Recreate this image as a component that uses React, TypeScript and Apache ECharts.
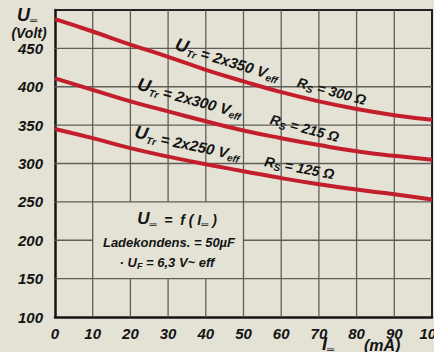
import React, { useEffect, useRef } from "react";
import * as echarts from "echarts";

const CURRENT_MA = [0, 10, 20, 30, 40, 50, 60, 70, 80, 90, 100];
const U_TR_350 = [488, 472, 455, 439, 422, 407, 393, 381, 371, 363, 357];
const U_TR_300 = [411, 396, 381, 368, 355, 343, 333, 324, 316, 310, 305];
const U_TR_250 = [345, 333, 320, 309, 299, 290, 281, 273, 266, 260, 253];
const X_GRID = [10, 20, 30, 40, 50, 60, 70, 80, 90];
const Y_GRID = [150, 200, 250, 300, 350, 400, 450];
const BOX_X = [10, 50];
const BOX_Y = [150, 250];

const BG = "#e3e2d4";
const INK = "#141414";
const RED = "#c31e2c";
const GRIDC = "#5f5f58";
const FONT = "Liberation Sans";

const pair = (ys: number[]) => CURRENT_MA.map((x, i) => [x, ys[i]]);

const rich = (size: number) => ({
  m: { fontSize: size, fontFamily: FONT, fontWeight: "bold", fontStyle: "italic", fill: INK, color: INK, lineHeight: size + 4, verticalAlign: "bottom" },
  s: { fontSize: Math.round(size * 0.68), fontFamily: FONT, fontWeight: "bold", fontStyle: "italic", fill: INK, color: INK, lineHeight: Math.round(size * 0.68), verticalAlign: "bottom", padding: [0, 0, -2, 0] },
  b: { fontSize: size + 3, fontFamily: FONT, fontWeight: "bold", fontStyle: "italic", fill: INK, color: INK, lineHeight: size + 4, verticalAlign: "bottom" },
});

const deg = (d: number) => (-d * Math.PI) / 180;

const label = (text: string, x: number, y: number, rot: number, size = 15) => ({
  type: "text",
  x,
  y,
  rotation: deg(rot),
  z: 20,
  style: { text, rich: rich(size), align: "left", verticalAlign: "middle" },
});

const center = (text: string, x: number, y: number, size = 13) => ({
  type: "text",
  x,
  y,
  z: 20,
  style: { text, rich: rich(size), align: "center", verticalAlign: "middle" },
});

export default function App() {
  const ref = useRef<HTMLDivElement>(null);
  useEffect(() => {
    document.body.style.margin = "0";
    document.body.style.background = BG;
    if (!ref.current) return;
    const chart = echarts.init(ref.current, null, { renderer: "svg" });
    const axisText = { fontFamily: FONT, fontWeight: "bold" as const, fontStyle: "italic" as const, fontSize: 15, color: INK };
    const curve = (name: string, ys: number[]) => ({
      name,
      type: "line",
      data: pair(ys),
      smooth: true,
      symbol: "none",
      lineStyle: { color: RED, width: 4 },
      z: 8,
    });
    const gridLine = (data: any[]) => ({
      type: "line",
      data,
      symbol: "none",
      silent: true,
      clip: false,
      connectNulls: false,
      lineStyle: { color: GRIDC, width: 1.3, opacity: 1 },
      z: 6,
    });
    const vLines = X_GRID.map((x) =>
      x > BOX_X[0] && x < BOX_X[1]
        ? gridLine([[x, 100], [x, BOX_Y[0]], [x, "-"], [x, BOX_Y[1]], [x, 500]])
        : gridLine([[x, 100], [x, 500]])
    );
    const hLines = Y_GRID.map((y) =>
      y > BOX_Y[0] && y < BOX_Y[1]
        ? gridLine([[0, y], [BOX_X[0], y], ["-", y], [BOX_X[1], y], [100, y]])
        : gridLine([[0, y], [100, y]])
    );
    const frameAxis = (pos: string) => ({
      type: "value",
      position: pos,
      min: pos === "top" ? 0 : 100,
      max: pos === "top" ? 100 : 500,
      axisLine: { show: true, onZero: false, lineStyle: { color: "#222", width: 2 } },
      axisTick: { show: false },
      axisLabel: { show: false },
      splitLine: { show: false },
    });
    chart.setOption({
      animation: false,
      backgroundColor: BG,
      grid: { left: 55, right: 2, top: 10, bottom: 35, containLabel: false, outerBoundsMode: "none" },
      xAxis: [
        {
          type: "value",
          position: "bottom",
          min: 0,
          max: 100,
          interval: 10,
          axisLine: { show: true, onZero: false, lineStyle: { color: INK, width: 2.5 } },
          axisTick: { show: false },
          axisLabel: { ...axisText, margin: 9 },
          splitLine: { show: false },
        },
        frameAxis("top"),
      ],
      yAxis: [
        {
          type: "value",
          position: "left",
          min: 100,
          max: 500,
          interval: 50,
          axisLine: { show: true, onZero: false, lineStyle: { color: INK, width: 2.5 } },
          axisTick: { show: false },
          axisLabel: { ...axisText, margin: 12, padding: [4, 0, 0, 0], formatter: (v: number) => (v === 500 ? "" : String(v)) },
          splitLine: { show: false },
        },
        frameAxis("right"),
      ],
      series: [...vLines, ...hLines, curve("350", U_TR_350), curve("300", U_TR_300), curve("250", U_TR_250)],
      graphic: [
        { type: "text", x: 17, y: 14, z: 20, style: { text: "{b|U}{s|═}", rich: rich(15), align: "left", verticalAlign: "middle" } },
        { type: "text", x: 29, y: 31, z: 20, style: { text: "{m|(Volt)}", rich: rich(14), align: "center", verticalAlign: "middle" } },
        { type: "text", x: 322, y: 343, z: 20, style: { text: "{b|I}{s|═}", rich: rich(15), align: "left", verticalAlign: "middle" } },
        { type: "text", x: 364, y: 343, z: 20, style: { text: "{m|(mA)}", rich: rich(16), align: "left", verticalAlign: "middle" } },
        label("{b|U}{s|Tr}{m| = 2x350 V}{s|eff}", 176, 43, 17),
        label("{m|R}{s|S}{m| = 300 Ω}", 298, 80, 15, 14),
        label("{b|U}{s|Tr}{m| = 2x300 V}{s|eff}", 138, 83, 15),
        label("{m|R}{s|S}{m| = 215 Ω}", 271, 117, 15, 14),
        label("{b|U}{s|Tr}{m| = 2x250 V}{s|eff}", 135, 131, 12),
        label("{m|R}{s|S}{m| = 125 Ω}", 265, 159, 11, 14),
        center("{b|U}{s|═}{m|  =  f ( I}{s|═}{m| )}", 177, 218, 14),
        center("{m|Ladekondens. = 50µF}", 169, 240),
        center("{m|· U}{s|F}{m| = 6,3 V~ eff}", 167, 260),
      ],
    });
    return () => chart.dispose();
  }, []);
  return <div ref={ref} style={{ width: 434, height: 352, position: "fixed", left: 0, top: 0, background: BG }} />;
}
